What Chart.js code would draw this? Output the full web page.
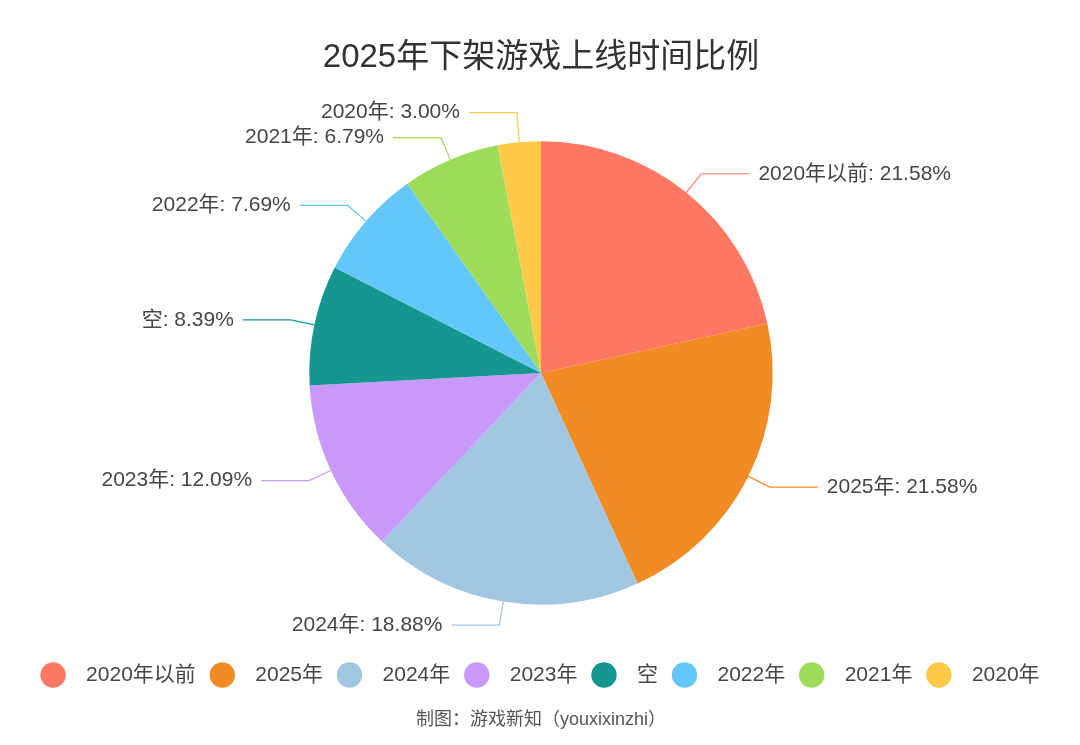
<!DOCTYPE html>
<html>
<head>
<meta charset="utf-8">
<script src="https://cdn.jsdelivr.net/npm/chart.js@4.4.1/dist/chart.umd.min.js"></script>
<style>
  html, body { margin: 0; padding: 0; background: #fff; }
</style>
</head>
<body>
<canvas id="pie_chart" width="1080" height="745"></canvas>
<script>
const categories = ['2020年以前', '2025年', '2024年', '2023年', '空', '2022年', '2021年', '2020年'];
const shares = [21.58, 21.58, 18.88, 12.09, 8.39, 7.69, 6.79, 3.00];
const colors = ['#ff7862', '#f28b24', '#a1c6e1', '#c898fb', '#15968f', '#63c7fc', '#9cdc5a', '#ffc94a'];
const titleText = '2025年下架游戏上线时间比例';
const footerText = '制图：游戏新知（youxixinzhi）';

const FONT = '"Liberation Sans", Arial, "Noto Sans CJK SC", sans-serif';

// labels outside the pie with a bent leader line
const outsideLabels = {
  id: 'outsideLabels',
  afterDatasetsDraw(chart) {
    const ctx = chart.ctx;
    const arcs = chart.getDatasetMeta(0).data;
    const items = arcs.map((arc, i) => {
      const p = arc.getProps(['x', 'y', 'startAngle', 'endAngle', 'outerRadius']);
      const mid = (p.startAngle + p.endAngle) / 2;
      const cos = Math.cos(mid), sin = Math.sin(mid);
      const r1 = p.outerRadius + 24;
      return {
        i: i,
        right: cos >= 0,
        x0: p.x + p.outerRadius * cos,
        y0: p.y + p.outerRadius * sin,
        x1: p.x + r1 * cos,
        y: p.y + r1 * sin
      };
    });
    // push labels apart, bottom up
    [true, false].forEach(side => {
      const group = items.filter(it => it.right === side).sort((a, b) => b.y - a.y);
      for (let k = 1; k < group.length; k++) {
        group[k].y = Math.min(group[k].y, group[k - 1].y - 25);
      }
    });
    ctx.save();
    ctx.font = '21px ' + FONT;
    ctx.textBaseline = 'middle';
    ctx.lineWidth = 1.2;
    items.forEach(it => {
      const dir = it.right ? 1 : -1;
      const x2 = it.x1 + dir * 48;
      ctx.strokeStyle = colors[it.i];
      ctx.beginPath();
      ctx.moveTo(it.x0, it.y0);
      ctx.lineTo(it.x1, it.y);
      ctx.lineTo(x2, it.y);
      ctx.stroke();
      ctx.fillStyle = '#464646';
      ctx.textAlign = it.right ? 'left' : 'right';
      ctx.fillText(categories[it.i] + ': ' + shares[it.i].toFixed(2) + '%', x2 + dir * 9, it.y);
    });
    ctx.restore();
  }
};

// legend row with round markers
const dotLegend = {
  id: 'dotLegend',
  afterDraw(chart) {
    const ctx = chart.ctx;
    const rad = 12.7, textGap = 33, itemGap = 13.8, y = 675;
    ctx.save();
    ctx.font = '21px ' + FONT;
    ctx.textBaseline = 'middle';
    ctx.textAlign = 'left';
    const widths = categories.map(c => ctx.measureText(c).width);
    const total = widths.reduce((s, w) => s + rad + textGap + w, 0) + itemGap * (categories.length - 1);
    let x = 540 - total / 2;
    categories.forEach((c, i) => {
      const cx = x + rad;
      ctx.fillStyle = colors[i];
      ctx.beginPath();
      ctx.arc(cx, y, rad, 0, Math.PI * 2);
      ctx.fill();
      ctx.fillStyle = '#464646';
      ctx.fillText(c, cx + textGap, y);
      x = cx + textGap + widths[i] + itemGap;
    });
    ctx.restore();
  }
};

const pie_ctx = document.getElementById('pie_chart').getContext('2d');

new Chart(pie_ctx, {
  type: 'pie',
  data: {
    labels: categories,
    datasets: [{
      data: shares,
      backgroundColor: colors,
      borderWidth: 0
    }]
  },
  plugins: [outsideLabels, dotLegend],
  options: {
    responsive: false,
    animation: false,
    layout: {
      padding: { left: 309, right: 307, top: 0, bottom: 0 }
    },
    plugins: {
      legend: { display: false },
      tooltip: { enabled: false },
      title: {
        display: true,
        text: titleText,
        color: '#333',
        font: { size: 33, family: FONT, weight: 'normal' },
        padding: { top: 38, bottom: 63.6 }
      },
      subtitle: {
        display: true,
        position: 'bottom',
        text: footerText,
        color: '#555',
        font: { size: 18, family: FONT, weight: 'normal' },
        padding: { top: 104.8, bottom: 14 }
      }
    }
  }
});
</script>
</body>
</html>
